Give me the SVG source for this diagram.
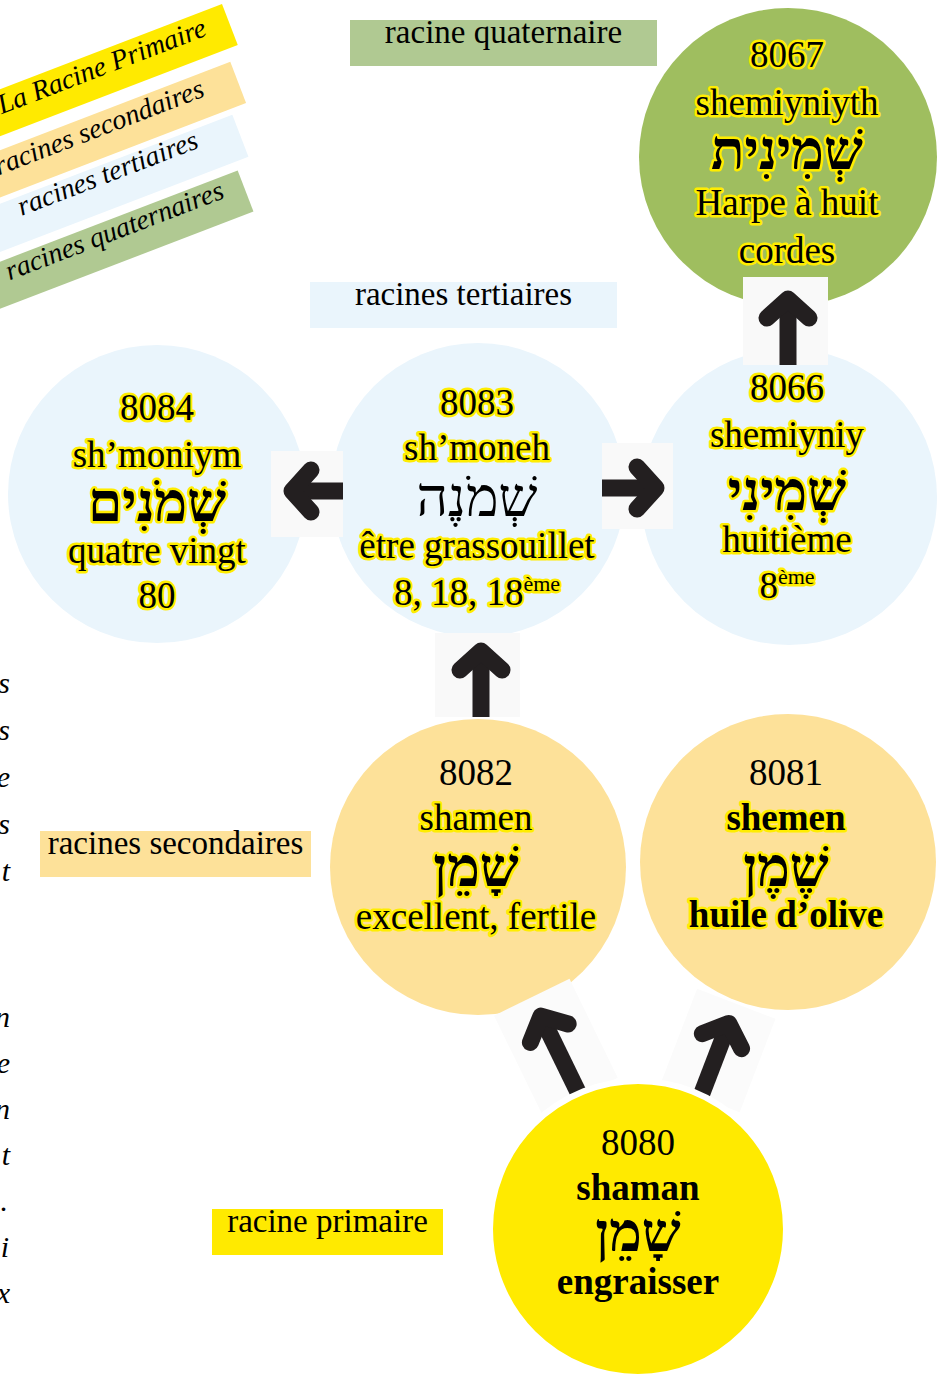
<svg xmlns="http://www.w3.org/2000/svg" width="948" height="1381" viewBox="0 0 948 1381">
<style>
.lbl{font-family:"Liberation Serif",serif;font-size:33px;text-anchor:middle;fill:#000}
.leg{font-family:"Liberation Serif",serif;font-style:italic;font-size:28px;text-anchor:end;fill:#000}
.edge{font-family:"Liberation Serif",serif;font-style:italic;font-size:30px;text-anchor:end;fill:#000}
.t{font-family:"Liberation Serif","DejaVu Sans",serif;font-size:37px;text-anchor:middle;fill:#000;stroke:#ffed00;stroke-width:5;stroke-linejoin:round;paint-order:stroke}
.n{stroke:none}
.b{font-weight:bold}
.heb{font-family:"Liberation Serif","DejaVu Sans",serif;font-weight:bold;font-size:55px}
.hebr{font-weight:normal}
.bg{fill:#f9f9f9}
.bg2{fill:#fbfbfb}
.hd{fill:none;stroke:#231f20;stroke-width:17;stroke-linecap:round;stroke-linejoin:round}
.sh{fill:none;stroke:#231f20;stroke-width:17;stroke-linecap:butt}
.q{fill:#9fbe5f}
.ter{fill:#eaf5fc}
.sec{fill:#fde199}
.pri{fill:#ffea00}
.sup{font-size:22px}
</style>

<g id="legend" transform="translate(222,4) rotate(-21)">
  <rect x="-400" y="0" width="400" height="44" class="pri"/>
  <rect x="-413" y="57" width="400" height="44" class="sec"/>
  <rect x="-430" y="107" width="400" height="45" class="ter"/>
  <rect x="-445" y="161" width="400" height="44" fill="#b0c992"/>
  <text class="leg" x="-24" y="24">La Racine Primaire</text>
  <text class="leg" x="-48" y="80">racines secondaires</text>
  <text class="leg" x="-72" y="126">racines tertiaires</text>
  <text class="leg" x="-66" y="182">racines quaternaires</text>
</g>

<g id="edge-text">
  <text class="edge" x="10" y="693">s</text>
  <text class="edge" x="10" y="740">s</text>
  <text class="edge" x="10" y="787">e</text>
  <text class="edge" x="10" y="834">s</text>
  <text class="edge" x="10" y="881">t</text>
  <text class="edge" x="10" y="1027">n</text>
  <text class="edge" x="10" y="1073">e</text>
  <text class="edge" x="10" y="1119">n</text>
  <text class="edge" x="10" y="1165">t</text>
  <text class="edge" x="8" y="1211">.</text>
  <text class="edge" x="9" y="1257">i</text>
  <text class="edge" x="10" y="1303">x</text>
</g>

<g id="label-quaternaire">
  <rect x="350" y="20" width="307" height="46" fill="#b0c992"/>
  <text class="lbl" x="503.5" y="43">racine quaternaire</text>
</g>
<g id="label-tertiaires">
  <rect x="310" y="282" width="307" height="46" class="ter"/>
  <text class="lbl" x="463.5" y="305">racines tertiaires</text>
</g>
<g id="label-secondaires">
  <rect x="40" y="831" width="271" height="46" class="sec"/>
  <text class="lbl" x="175.5" y="854">racines secondaires</text>
</g>
<g id="label-primaire">
  <rect x="212" y="1209" width="231" height="46" class="pri"/>
  <text class="lbl" x="327.5" y="1232">racine primaire</text>
</g>

<g id="node-8067">
  <circle cx="788" cy="157" r="149" class="q"/>
  <text class="t" x="787" y="67">8067</text>
  <text class="t" x="787" y="115">shemiyniyth</text>
  <text class="t heb" x="787" y="169">שְׁמִינִית</text>
  <text class="t" x="787" y="215">Harpe à huit</text>
  <text class="t" x="787" y="263">cordes</text>
</g>

<g id="node-8084">
  <circle cx="157" cy="494" r="149" class="ter"/>
  <text class="t" x="157" y="420">8084</text>
  <text class="t" x="157" y="467">sh’moniym</text>
  <text class="t heb" x="157" y="521">שְׁמֹנִים</text>
  <text class="t" x="157" y="563">quatre vingt</text>
  <text class="t" x="157" y="608">80</text>
</g>

<g id="node-8083">
  <circle cx="478" cy="490" r="147" class="ter"/>
  <text class="t" x="477" y="415">8083</text>
  <text class="t" x="477" y="460">sh’moneh</text>
  <text class="t heb hebr n" x="477" y="516">שְׁמֹנֶה</text>
  <text class="t" x="477" y="558">être grassouillet</text>
  <text class="t" x="477" y="605">8, 18, 18<tspan class="sup" dy="-14">ème</tspan></text>
</g>

<g id="node-8066">
  <circle cx="789" cy="497" r="148" class="ter"/>
  <text class="t" x="787" y="400">8066</text>
  <text class="t" x="787" y="447">shemiyniy</text>
  <text class="t heb" x="787" y="510">שְׁמִינִי</text>
  <text class="t" x="787" y="552">huitième</text>
  <text class="t" x="787" y="598">8<tspan class="sup" dy="-14">ème</tspan></text>
</g>

<g id="node-8082">
  <circle cx="478" cy="867" r="148" class="sec"/>
  <text class="t n" x="476" y="785">8082</text>
  <text class="t" x="476" y="830">shamen</text>
  <text class="t heb" x="476" y="886">שָׁמֵן</text>
  <text class="t" x="476" y="929">excellent, fertile</text>
</g>

<g id="node-8081">
  <circle cx="788" cy="862" r="148" class="sec"/>
  <text class="t n" x="786" y="785">8081</text>
  <text class="t b" x="786" y="830">shemen</text>
  <text class="t heb" x="786" y="886">שֶׁמֶן</text>
  <text class="t b" x="786" y="927">huile d’olive</text>
</g>

<g id="connectors">
  <rect class="bg" x="743" y="277" width="85" height="88"/>
  <rect class="bg" x="271" y="451" width="72" height="86"/>
  <rect class="bg" x="602" y="443" width="71" height="86"/>
  <rect class="bg" x="435" y="633" width="85" height="84"/>
  <g transform="translate(537,1008) rotate(-26)"><rect class="bg2" x="-42" y="-12" width="84" height="110"/></g>
  <g transform="translate(732,1015) rotate(21)"><rect class="bg2" x="-42" y="-12" width="84" height="100"/></g>

  <g transform="translate(788,290)"><path class="sh" d="M0,14 V75"/><path class="hd" d="M-21,28 L0,9 L21,28"/></g>
  <g transform="translate(283,491) rotate(-90)"><path class="sh" d="M0,14 V60"/><path class="hd" d="M-21,28 L0,9 L21,28"/></g>
  <g transform="translate(665,488) rotate(90)"><path class="sh" d="M0,14 V63"/><path class="hd" d="M-21,28 L0,9 L21,28"/></g>
  <g transform="translate(481,642)"><path class="sh" d="M0,14 V75"/><path class="hd" d="M-21,28 L0,9 L21,28"/></g>
  <g transform="translate(537,1008) rotate(-26)"><path class="sh" d="M0,14 V100"/><path class="hd" d="M-21,28 L0,9 L21,28"/></g>
  <g transform="translate(732,1015) rotate(21)"><path class="sh" d="M0,14 V90"/><path class="hd" d="M-21,28 L0,9 L21,28"/></g>
</g>

<g id="node-8080">
  <circle cx="638" cy="1229" r="148" class="pri" stroke="#ffffff" stroke-width="6"/>
  <text class="t n" x="638" y="1155">8080</text>
  <text class="t n b" x="638" y="1200">shaman</text>
  <text class="t n heb" x="638" y="1251">שָׁמֵן</text>
  <text class="t n b" x="638" y="1294">engraisser</text>
</g>
</svg>
